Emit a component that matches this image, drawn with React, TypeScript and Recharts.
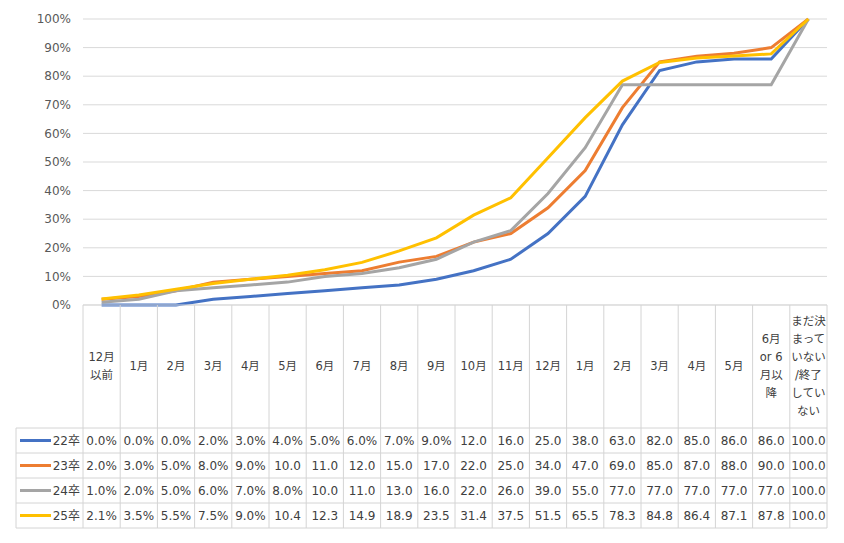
import { LineChart, Line, XAxis, YAxis, CartesianGrid } from "recharts";

const categories = [
  "12月\n以前", "1月", "2月", "3月", "4月", "5月", "6月", "7月", "8月", "9月",
  "10月", "11月", "12月", "1月", "2月", "3月", "4月", "5月",
  "6月\nor 6\n月以\n降", "まだ決\nまって\nいない\n/終了\nしてい\nない",
];

const grad22 = [0, 0, 0, 2, 3, 4, 5, 6, 7, 9, 12, 16, 25, 38, 63, 82, 85, 86, 86, 100];
const grad23 = [2, 3, 5, 8, 9, 10, 11, 12, 15, 17, 22, 25, 34, 47, 69, 85, 87, 88, 90, 100];
const grad24 = [1, 2, 5, 6, 7, 8, 10, 11, 13, 16, 22, 26, 39, 55, 77, 77, 77, 77, 77, 100];
const grad25 = [2.1, 3.5, 5.5, 7.5, 9.0, 10.4, 12.3, 14.9, 18.9, 23.5, 31.4, 37.5, 51.5, 65.5, 78.3, 84.8, 86.4, 87.1, 87.8, 100];

const seriesNames = ["22卒", "23卒", "24卒", "25卒"];
const seriesColors = ["#4472C4", "#ED7D31", "#A5A5A5", "#FFC000"];
const yTicks = [0, 10, 20, 30, 40, 50, 60, 70, 80, 90, 100];

const seriesValues = [grad22, grad23, grad24, grad25];
const keys = ["s22", "s23", "s24", "s25"];

const data = categories.map((c, i) => ({
  idx: i,
  s22: grad22[i],
  s23: grad23[i],
  s24: grad24[i],
  s25: grad25[i],
}));

const FONT = "'DejaVu Sans', 'Noto Sans CJK JP', sans-serif";
const PLOT_LEFT = 83;
const PLOT_RIGHT = 827;
const AXIS_Y = 305;
const HEADER_BOTTOM = 428;
const ROW_H = 25;
const TABLE_LEFT = 16;
const COL = (PLOT_RIGHT - PLOT_LEFT) / categories.length;
const BORDER = "#d4d4d4";

// excel's data table squeezes: under 10 keeps the %, otherwise drops it
const fmt = (v: number) => (v < 10 ? v.toFixed(1) + "%" : v.toFixed(1));

// eslint-disable-next-line @typescript-eslint/no-explicit-any
const TableTick = (props: any) => {
  const { x, payload } = props;
  const i = payload.index ?? payload.value;
  const lines = categories[i].split("\n");
  const lh = 18;
  const headerMid = 366;
  const left = x - COL / 2;
  const tableBottom = HEADER_BOTTOM + ROW_H * seriesNames.length;

  return (
    <g>
      <line x1={left} x2={left} y1={AXIS_Y} y2={tableBottom} stroke={BORDER} />
      {i === categories.length - 1 && (
        <line x1={left + COL} x2={left + COL} y1={AXIS_Y} y2={tableBottom} stroke={BORDER} />
      )}
      {lines.map((ln: string, k: number) => (
        <text
          key={k}
          x={x}
          y={headerMid + (k - (lines.length - 1) / 2) * lh}
          textAnchor="middle"
          dominantBaseline="central"
          fontSize={11.5}
          fontFamily={FONT}
          fill="#404040"
        >
          {ln}
        </text>
      ))}
      {seriesValues.map((vals, r) => (
        <text
          key={r}
          x={x}
          y={HEADER_BOTTOM + ROW_H * r + ROW_H / 2}
          textAnchor="middle"
          dominantBaseline="central"
          fontSize={12}
          fontFamily={FONT}
          fill="#404040"
        >
          {fmt(vals[i])}
        </text>
      ))}
      {i === 0 && (
        <g>
          {[0, 1, 2, 3, 4].map((k) => (
            <line
              key={k}
              x1={TABLE_LEFT}
              x2={PLOT_RIGHT}
              y1={HEADER_BOTTOM + ROW_H * k}
              y2={HEADER_BOTTOM + ROW_H * k}
              stroke={BORDER}
            />
          ))}
          <line x1={TABLE_LEFT} x2={TABLE_LEFT} y1={HEADER_BOTTOM} y2={tableBottom} stroke={BORDER} />
          {seriesNames.map((name, r) => {
            const cy = HEADER_BOTTOM + ROW_H * r + ROW_H / 2;
            return (
              <g key={name}>
                <line x1={20} x2={51} y1={cy} y2={cy} stroke={seriesColors[r]} strokeWidth={3} />
                <text
                  x={80}
                  y={cy}
                  textAnchor="end"
                  dominantBaseline="central"
                  fontSize={12}
                  fontFamily={FONT}
                  fill="#404040"
                >
                  {name}
                </text>
              </g>
            );
          })}
        </g>
      )}
    </g>
  );
};

export default function App() {
  return (
    <div style={{ width: 844, height: 543, margin: -8, background: "#fff" }}>
      <LineChart
        width={844}
        height={543}
        data={data}
        margin={{ top: 19, right: 844 - PLOT_RIGHT, left: 0, bottom: 0 }}
      >
        <CartesianGrid vertical={false} stroke="#d9d9d9" />
        <XAxis
          dataKey="idx"
          type="category"
          interval={0}
          height={543 - AXIS_Y - 19 + 19}
          padding={{ left: COL / 2, right: COL / 2 }}
          axisLine={{ stroke: "#d9d9d9" }}
          tickLine={false}
          tick={<TableTick />}
        />
        <YAxis
          width={PLOT_LEFT}
          domain={[0, 100]}
          ticks={yTicks}
          tickFormatter={(v: number) => `${v}%`}
          axisLine={false}
          tickLine={false}
          tick={{ fontSize: 12, fill: "#595959", fontFamily: FONT, dx: -4 }}
        />
        {keys.map((k, s) => (
          <Line
            key={k}
            dataKey={k}
            name={seriesNames[s]}
            stroke={seriesColors[s]}
            strokeWidth={3}
            dot={false}
            type="linear"
            isAnimationActive={false}
          />
        ))}
      </LineChart>
    </div>
  );
}
